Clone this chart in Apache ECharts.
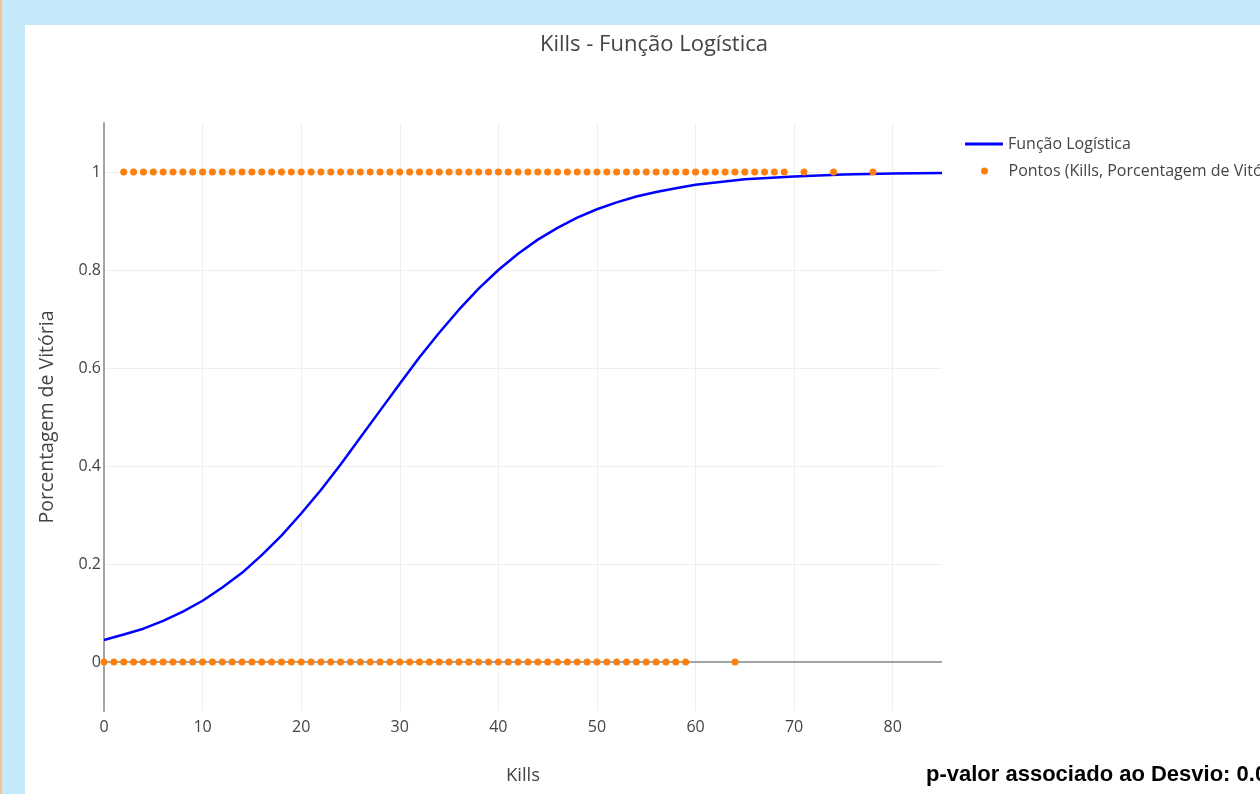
<!DOCTYPE html>
<html><head><meta charset="utf-8">
<script src="https://cdn.jsdelivr.net/npm/echarts@6/dist/echarts.min.js"></script>
<style>
html,body{margin:0;padding:0;width:1260px;height:794px;overflow:hidden;background:#c6e9f9;}
#edge{position:absolute;left:0;top:0;width:2px;height:794px;background:#f3c391;}
#chart{position:absolute;left:25px;top:25px;width:1235px;height:769px;background:#fff;}
#pval{position:absolute;left:926px;top:763px;font:bold 22px/22px 'Liberation Sans',Arial,sans-serif;color:#000;white-space:nowrap;z-index:5;}
</style></head><body>
<div id="edge"></div>
<div id="chart"></div>
<div id="pval">p-valor associado ao Desvio: 0.0</div>
<script>
// Chart data
const titleText = 'Kills - Função Logística';
const xName = 'Kills';
const yName = 'Porcentagem de Vitória';
const lineName = 'Função Logística';
const pointsName = 'Pontos (Kills, Porcentagem de Vitória)';

const xTicks = [0, 10, 20, 30, 40, 50, 60, 70, 80];
const yTicks = [0, 0.2, 0.4, 0.6, 0.8, 1];

// kills of won matches (y = 1)
const winKills = [2,3,4,5,6,7,8,9,10,11,12,13,14,15,16,17,18,19,20,21,22,23,24,25,26,27,28,29,30,
  31,32,33,34,35,36,37,38,39,40,41,42,43,44,45,46,47,48,49,50,51,52,53,54,55,56,57,58,59,60,
  61,62,63,64,65,66,67,68,69,71,74,78];
// kills of lost matches (y = 0)
const lossKills = [0,1,2,3,4,5,6,7,8,9,10,11,12,13,14,15,16,17,18,19,20,21,22,23,24,25,26,27,28,29,
  30,31,32,33,34,35,36,37,38,39,40,41,42,43,44,45,46,47,48,49,50,51,52,53,54,55,56,57,58,59,64];

// logistic curve
const curveX = [0,2,4,6,8,10,12,14,16,18,20,22,24,26,28,30,32,34,36,38,40,42,44,46,48,50,52,54,56,58,60,65,70,75,80,85];
const curveY = [0.045,0.056,0.068,0.084,0.103,0.125,0.152,0.182,0.218,0.258,0.303,0.351,0.403,0.458,0.513,0.568,
  0.622,0.672,0.719,0.762,0.800,0.833,0.862,0.886,0.907,0.924,0.938,0.950,0.959,0.967,0.974,0.985,0.991,0.995,0.997,0.998];

const curveData = curveX.map((x, i) => [x, curveY[i]]);
const pointData = winKills.map(k => [k, 1]).concat(lossKills.map(k => [k, 0]));

const FONT = 'Open Sans';
const chart = echarts.init(document.getElementById('chart'), null, {renderer: 'canvas'});
chart.setOption({
  animation: false,
  backgroundColor: '#fff',
  textStyle: {fontFamily: FONT},
  graphic: [{
    type: 'text', x: 629, y: 20, silent: true,
    style: {text: titleText, fill: '#444', font: '22px "Open Sans"', textAlign: 'center', textVerticalAlign: 'middle'}
  }],
  legend: [
    {data: [{name: lineName, icon: 'rect'}], left: 940, top: 111, padding: 0, itemWidth: 38, itemHeight: 3,
     selectedMode: false, textStyle: {fontFamily: FONT, fontSize: 16, color: '#444'}},
    {data: [{name: pointsName, icon: 'circle'}], left: 956, top: 138, padding: 0, itemWidth: 38, itemHeight: 7,
     selectedMode: false, textStyle: {fontFamily: FONT, fontSize: 16, color: '#444'}}
  ],
  grid: {left: 79, right: 318, top: 98, bottom: 83, containLabel: false},
  xAxis: {
    type: 'value', min: 0, max: 85,
    name: xName, nameLocation: 'middle', nameGap: 55,
    nameTextStyle: {fontFamily: FONT, fontSize: 18.5, color: '#444'},
    axisLine: {show: false},
    axisTick: {show: false, customValues: xTicks},
    axisLabel: {customValues: xTicks, margin: 8, fontFamily: FONT, fontSize: 16, color: '#444'},
    splitLine: {show: true, lineStyle: {color: '#eeeeee', width: 1}}
  },
  yAxis: {
    type: 'value', min: -0.1, max: 1.1,
    name: yName, nameLocation: 'middle', nameGap: 47, nameRotate: 90,
    nameTextStyle: {fontFamily: FONT, fontSize: 19.5, color: '#444'},
    axisLine: {show: true, onZero: false, lineStyle: {color: '#a4a4a4', width: 2}},
    axisTick: {show: false, customValues: yTicks},
    axisLabel: {customValues: yTicks, margin: 3, fontFamily: FONT, fontSize: 16, color: '#444',
      formatter: v => String(+(+v).toFixed(1))},
    splitLine: {show: true, lineStyle: {color: '#eeeeee', width: 1}}
  },
  series: [
    {type: 'line', data: [], silent: true, z: 1,
     markLine: {silent: true, symbol: ['none', 'none'], label: {show: false},
       lineStyle: {color: '#a4a4a4', width: 2, type: 'solid'}, emphasis: {disabled: true},
       data: [{yAxis: 0}]}},
    {name: lineName, type: 'line', data: curveData, symbol: 'none', smooth: false, z: 8,
     lineStyle: {color: '#0000ff', width: 2.5}, itemStyle: {color: '#0000ff'}},
    {name: pointsName, type: 'scatter', data: pointData, symbolSize: 7, z: 10,
     itemStyle: {color: '#ff7f0e', opacity: 1}}
  ]
});
</script>
</body></html>
